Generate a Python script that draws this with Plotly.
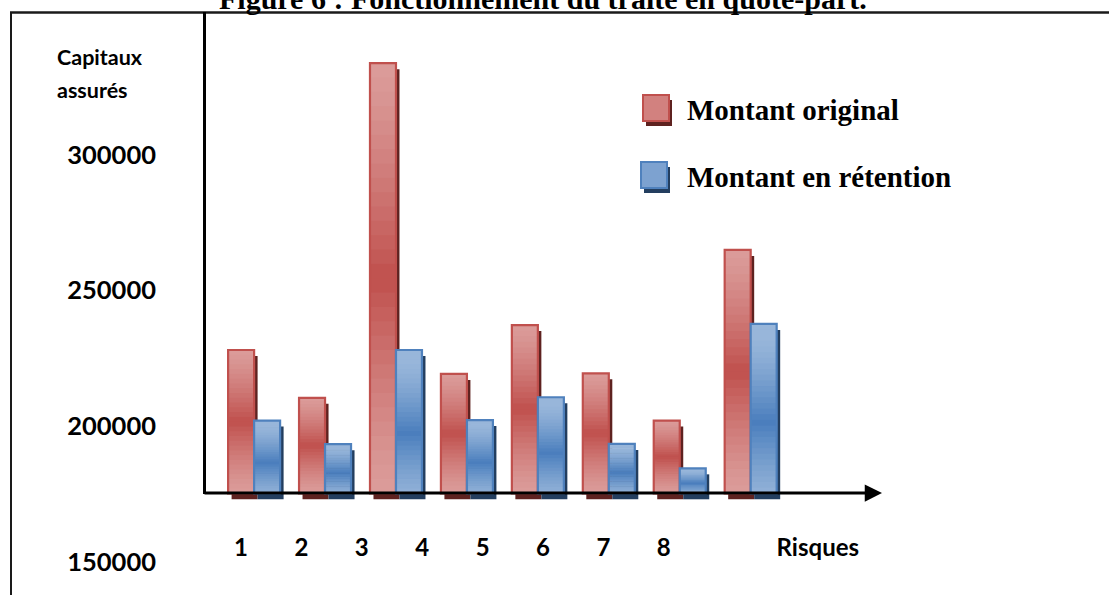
import plotly.graph_objects as go

# ---------------- data ----------------
CATEGORIES = ["1", "2", "3", "4", "5", "6", "7", "8"]
SERIES_NAMES = ["Montant original", "Montant en rétention"]
MONTANT_ORIGINAL = [228000, 210400, 333700, 219200, 237200, 219400, 202000, 264900]
MONTANT_RETENTION = [202000, 193300, 228000, 202200, 210600, 193400, 184400, 237600]
Y_TICK_VALUES = [150000, 200000, 250000, 300000]
Y_TICK_LABELS = ["150000", "200000", "250000", "300000"]
X_LABELS = ["1", "2", "3", "4", "5", "6", "7", "8", "Risques"]
X_LABEL_POS = [1, 2, 3, 4, 5, 6, 7, 8, 10.55]
TITLE = "Figure 6 : Fonctionnement du traité en quote-part."
Y_TITLE_LINES = ["Capitaux", "assurés"]
BASELINE = 175200

# ---------------- geometry helpers (layout only) ----------------
FIG_W, FIG_H = 1109, 595
PL, PT, PR, PB = 204, 12, 1109, 595
PW, PH = PR - PL, PB - PT


def px(x):
    return (x - PL) / PW


def py(y):
    return (PB - y) / PH


UNIT_PER_PX = 368.5
Y_RANGE = [200000 - (PB - 426) * UNIT_PER_PX, 200000 + (426 - PT) * UNIT_PER_PX]
CAT_PX = 70.94
X_RANGE = [-(254.1 - PL) / CAT_PX, -(254.1 - PL) / CAT_PX + PW / CAT_PX]
LAB_PX = 60.4
X2_RANGE = [1 - (241 - PL) / LAB_PX, 1 - (241 - PL) / LAB_PX + PW / LAB_PX]

BAR_W = 26 / CAT_PX
SHADOW_DX = 3.5 / CAT_PX
SHADOW_DY = 6 * UNIT_PER_PX


def hex2rgb(h):
    h = h.lstrip("#")
    return tuple(int(h[i:i + 2], 16) for i in (0, 2, 4))


def mix(c1, c2, w):
    a, b = hex2rgb(c1), hex2rgb(c2)
    return "rgb(%d,%d,%d)" % tuple(round(a[i] + (b[i] - a[i]) * w) for i in range(3))


STYLES = [
    dict(light="#DB9C9A", dark="#C0504D", edge="#C0504D", shadow="#5E2220", peak=0.50, offset=-BAR_W),
    dict(light="#98B6DA", dark="#4A7EBD", edge="#4F81BD", shadow="#233E5F", peak=0.42, offset=0.0),
]

fig = go.Figure()
N_BANDS = 30

for values, st, name in zip([MONTANT_ORIGINAL, MONTANT_RETENTION], STYLES, SERIES_NAMES):
    heights = [v - BASELINE for v in values]
    # drop shadow
    fig.add_trace(go.Bar(
        x=CATEGORIES, y=heights, base=[BASELINE - SHADOW_DY] * len(values),
        offset=st["offset"] + SHADOW_DX, width=BAR_W,
        marker=dict(color=st["shadow"], line=dict(width=0)),
        showlegend=False, hoverinfo="skip"))
    # gradient bands (from bottom to top)
    for k in range(N_BANDS):
        t = (k + 0.5) / N_BANDS  # fraction from bottom
        w = max(0.0, 1 - abs(t - st["peak"]) / 0.5)
        w = w ** 1.3
        col = mix(st["light"], st["dark"], w)
        top = min(k + 1.3, N_BANDS)
        fig.add_trace(go.Bar(
            x=CATEGORIES,
            y=[h * (top - k) / N_BANDS for h in heights],
            base=[BASELINE + h * k / N_BANDS for h in heights],
            offset=st["offset"], width=BAR_W,
            marker=dict(color=col, line=dict(width=0)),
            showlegend=False, hoverinfo="skip"))
    # outline
    fig.add_trace(go.Bar(
        x=CATEGORIES, y=heights, base=[BASELINE] * len(values),
        offset=st["offset"], width=BAR_W, name=name,
        marker=dict(color="rgba(0,0,0,0)", line=dict(color=st["edge"], width=2.2)),
        showlegend=False))

# dummy trace to activate the label axis
fig.add_trace(go.Scatter(x=[None], y=[None], xaxis="x2", yaxis="y",
                         showlegend=False, hoverinfo="skip"))

shapes = [
    # frame lines
    dict(type="line", xref="paper", yref="paper", x0=px(10), x1=px(1109), y0=py(12.5), y1=py(12.5),
         line=dict(color="#1a1a1a", width=2.5)),
    dict(type="line", xref="paper", yref="paper", x0=px(11), x1=px(11), y0=py(12), y1=py(596),
         line=dict(color="#1a1a1a", width=2)),
    dict(type="line", xref="paper", yref="paper", x0=px(204.5), x1=px(204.5), y0=py(12), y1=py(494),
         line=dict(color="black", width=3)),
]

# legend squares
LEG = [
    dict(x0=643, y0=95, x1=669, y1=121),
    dict(x0=641, y0=162, x1=667, y1=188),
]
for box, st in zip(LEG, STYLES):
    shapes.append(dict(type="rect", xref="paper", yref="paper",
                       x0=px(box["x0"] + 3), x1=px(box["x1"] + 3), y0=py(box["y0"] + 5), y1=py(box["y1"] + 5),
                       fillcolor=st["shadow"], line=dict(width=0)))
    shapes.append(dict(type="rect", xref="paper", yref="paper",
                       x0=px(box["x0"]), x1=px(box["x1"]), y0=py(box["y0"]), y1=py(box["y1"]),
                       fillcolor=mix(st["light"], st["dark"], 0.35), line=dict(color=st["edge"], width=2)))

annotations = [
    dict(text="<b>" + TITLE + "</b>", xref="paper", yref="paper", x=px(543), y=py(-1.5),
         xanchor="center", yanchor="middle", showarrow=False,
         font=dict(family="Liberation Serif", size=30, color="black")),
    dict(text="<b>" + Y_TITLE_LINES[0] + "</b>", xref="paper", yref="paper", x=px(55), y=py(56.5),
         xanchor="left", yanchor="middle", showarrow=False,
         font=dict(family="Lato", size=21.5, color="black")),
    dict(text="<b>" + Y_TITLE_LINES[1] + "</b>", xref="paper", yref="paper", x=px(55), y=py(90),
         xanchor="left", yanchor="middle", showarrow=False,
         font=dict(family="Lato", size=21.5, color="black")),
    dict(text="<b>" + SERIES_NAMES[0] + "</b>", xref="paper", yref="paper", x=px(685), y=py(110),
         xanchor="left", yanchor="middle", showarrow=False,
         font=dict(family="Liberation Serif", size=29, color="black")),
    dict(text="<b>" + SERIES_NAMES[1] + "</b>", xref="paper", yref="paper", x=px(685), y=py(176.5),
         xanchor="left", yanchor="middle", showarrow=False,
         font=dict(family="Liberation Serif", size=29, color="black")),
    # horizontal axis arrow
    dict(text="", xref="paper", yref="paper", x=px(882), y=py(493),
         axref="pixel", ayref="pixel", ax=-(882 - 203), ay=0,
         showarrow=True, arrowhead=2, arrowsize=1.15, arrowwidth=3, arrowcolor="black", standoff=0),
]

fig.update_layout(
    width=FIG_W, height=FIG_H,
    margin=dict(l=PL, r=FIG_W - PR, t=PT, b=FIG_H - PB, autoexpand=False),
    paper_bgcolor="white", plot_bgcolor="white",
    barmode="overlay",
    showlegend=False,
    shapes=shapes,
    annotations=annotations,
    xaxis=dict(type="category", range=X_RANGE, visible=False, fixedrange=True),
    xaxis2=dict(overlaying="x", anchor="free", position=py(531), range=X2_RANGE,
                tickvals=X_LABEL_POS, ticktext=X_LABELS, showgrid=False, zeroline=False,
                showline=False, ticks="", tickfont=dict(family="Lato", size=24, color="black", weight="bold")),
    yaxis=dict(range=Y_RANGE, tickvals=Y_TICK_VALUES, ticktext=Y_TICK_LABELS,
               showgrid=False, zeroline=False, showline=False, ticks="",
               ticklabelstandoff=47,
               tickfont=dict(family="Lato", size=25.5, color="black", weight="bold")),
)

fig.write_html(
    "out.html",
    config={"displayModeBar": False},
    post_script="document.body.style.margin='0';document.body.style.padding='0';",
)
